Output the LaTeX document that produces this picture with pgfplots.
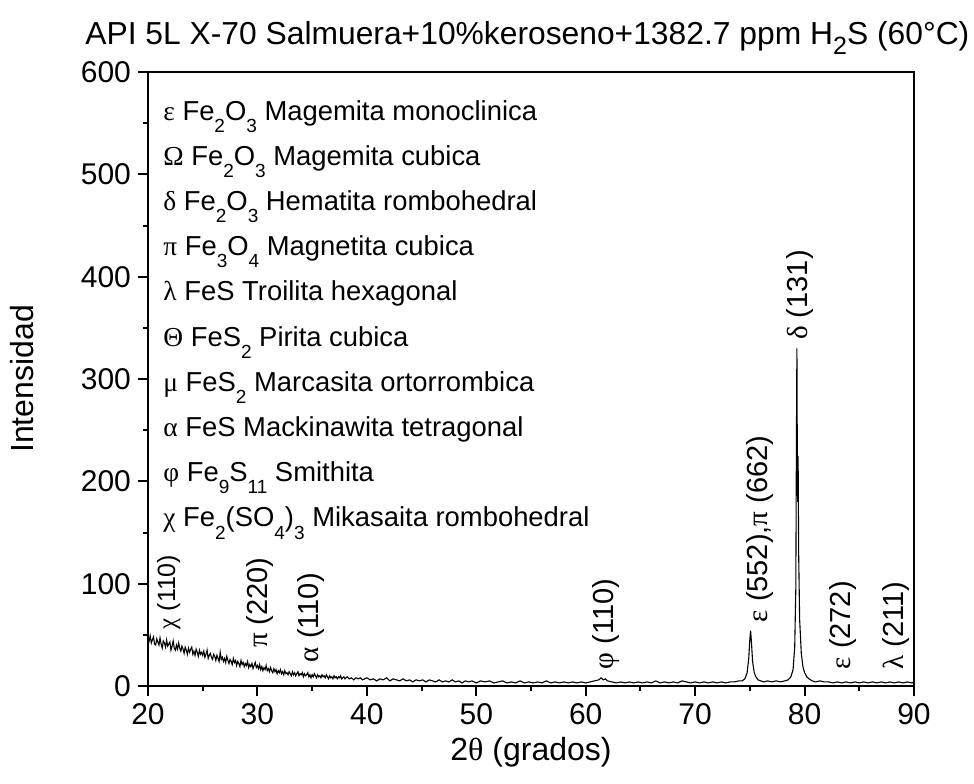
\documentclass[border=0pt]{standalone}
\usepackage{fontspec}
\setmainfont{Liberation Sans}
\newfontfamily\grk{Liberation Serif}
\usepackage{pgfplots}
\usepackage{pgfplotstable}
\pgfplotsset{compat=1.18}
\newcommand{\sub}[1]{\raisebox{-0.45em}{\fontsize{9.5}{9.5}\selectfont #1}}
\pgfplotstableread{
x y
20.0 47
20.1 44
20.2 49
20.3 42
20.4 45
20.5 48
20.6 41
20.7 40
20.8 46
20.9 43
21.0 40
21.1 47
21.2 41
21.3 37
21.4 44
21.5 42
21.6 38
21.7 45
21.8 39
21.9 41
22.0 43
22.1 35
22.2 39
22.3 44
22.4 37
22.5 35
22.6 40
22.7 36
22.8 42
22.9 37
23.0 34
23.1 39
23.2 36
23.3 32
23.4 38
23.5 35
23.6 31
23.7 37
23.8 33
23.9 36
24.0 38
24.1 31
24.2 34
24.3 30
24.4 36
24.5 33
24.6 29
24.7 35
24.8 31
24.9 33
25.0 30
25.1 34
25.2 28
25.3 31
25.4 35
25.5 27
25.6 30
25.7 32
25.8 28
25.9 26
26.0 31
26.1 29
26.2 25
26.3 30
26.4 27
26.5 24
26.6 33
26.7 26
26.8 28
26.9 24
27.0 27
27.1 23
27.2 29
27.3 25
27.4 22
27.5 26
27.6 24
27.7 21
27.8 27
27.9 23
28.0 25
28.1 20
28.2 24
28.3 22
28.4 19
28.5 25
28.6 21
28.7 23
28.8 19
28.9 22
29.0 20
29.1 24
29.2 18
29.3 21
29.4 19
29.5 22
29.6 17
29.7 20
29.8 23
29.9 18
30.0 20
30.1 17
30.2 21
30.3 16
30.4 19
30.5 15
30.6 18
30.7 16
30.8 20
30.9 15
31.0 17
31.1 14
31.2 18
31.3 15
31.4 13
31.5 17
31.6 14
31.7 16
31.8 12
31.9 15
32.0 13
32.1 16
32.2 12
32.3 14
32.4 11
32.5 15
32.6 12
32.7 13
32.8 11
32.9 14
33.0 12
33.1 10
33.2 14
33.3 11
33.4 13
33.5 10
33.6 12
33.7 14
33.8 10
33.9 12
34.0 11
34.1 13
34.2 9
34.3 12
34.4 10
34.5 11
34.6 13
34.7 9
34.8 11
34.9 8
35.0 11
35.1 9
35.2 12
35.3 10
35.4 8
35.5 11
35.6 9
35.7 10
35.8 8
35.9 11
36.0 9
36.1 10
36.2 8
36.3 11
36.4 9
36.5 7
36.6 10
36.7 8
36.8 9
36.9 7
37.0 10
37.1 8
37.2 9
37.3 7
37.4 9
37.5 8
37.6 10
37.7 7
37.8 8
37.9 9
38.0 7
38.2 9
38.4 7
38.6 8
38.8 6
39.0 8
39.2 7
39.4 8
39.6 6
39.8 7
40.0 8
40.3 6
40.6 7
40.9 5
41.2 7
41.5 6
41.8 8
42.1 5
42.4 7
42.7 6
43.0 5
43.3 7
43.6 5
43.9 6
44.2 4
44.5 6
44.8 5
45.1 6
45.4 4
45.7 6
46.0 5
46.3 4
46.6 6
46.9 4
47.2 5
47.5 4
47.8 6
48.1 4
48.4 5
48.7 3
49.0 5
49.3 4
49.6 5
50.0 3
50.4 5
50.8 4
51.2 5
51.6 3
52.0 4
52.4 5
52.8 3
53.2 4
53.6 3
54.0 5
54.4 3
54.8 4
55.2 3
55.6 4
56.0 3
56.4 5
56.8 3
57.2 4
57.6 3
58.0 4
58.4 3
58.8 4
59.2 3
59.6 4
60.0 3
60.4 4
60.8 5
61.2 6
61.4 8
61.6 6
61.8 7
62.0 5
62.4 4
62.8 3
63.2 4
63.6 3
64.0 4
64.4 3
64.8 4
65.2 3
65.6 4
66.0 3
66.4 5
66.8 3
67.2 4
67.6 3
68.0 4
68.4 3
68.8 5
69.2 4
69.6 3
70.0 4
70.4 3
70.8 4
71.2 3
71.6 4
72.0 3
72.4 4
72.8 3
73.2 4
73.6 4
74.0 5
74.3 5
74.55 7
74.75 13
74.9 27
75.0 46
75.07 54
75.15 42
75.25 24
75.4 13
75.55 9
75.75 6
76.0 5
76.3 4
76.6 5
77.0 4
77.4 5
77.8 4
78.2 5
78.5 6
78.75 9
78.95 16
79.1 38
79.2 95
79.26 250
79.3 330
79.35 190
79.38 180
79.41 225
79.46 130
79.55 65
79.7 32
79.85 19
80.0 13
80.2 9
80.4 7
80.7 5
81.0 4
81.4 5
81.8 4
82.2 4
82.6 3
83.0 4
83.4 3
83.8 4
84.2 3
84.6 4
85.0 3
85.4 4
85.8 3
86.2 4
86.6 3
87.0 4
87.4 3
87.8 4
88.2 3
88.6 4
89.0 3
89.4 4
89.8 3
90.0 4
}\xrd
\begin{document}
\begin{tikzpicture}
\begin{axis}[
  at={(0,0)}, anchor=south west, scale only axis,
  width=383pt, height=307pt,
  xmin=20, xmax=90, ymin=0, ymax=600,
  xtick={20,30,...,90}, minor xtick={25,35,...,85},
  ytick={0,100,...,600}, minor ytick={50,150,...,550},
  tick align=outside, xtick pos=left, ytick pos=left,
  major tick length=5pt, minor tick length=2.5pt,
  every tick/.style={black, line width=1pt},
  axis line style={line width=1pt},
  tick label style={font=\fontsize{15}{17}\selectfont},
  /pgf/number format/assume math mode=true,
  clip=false,
]
\addplot[black, line width=0.55pt, mark=none] table {\xrd};
\node[rotate=90, anchor=west, inner sep=0pt, font=\fontsize{12.5}{14}\selectfont] at (axis cs:21.9,55) {{\grk χ} (110)};
\node[rotate=90, anchor=west, inner sep=0pt, font=\fontsize{14.5}{16}\selectfont] at (axis cs:30.2,37) {{\grk π} (220)};
\node[rotate=90, anchor=west, inner sep=0pt, font=\fontsize{14.5}{16}\selectfont] at (axis cs:34.9,23) {{\grk α} (110)};
\node[rotate=90, anchor=west, inner sep=0pt, font=\fontsize{14.5}{16}\selectfont] at (axis cs:61.9,16) {{\grk φ} (110)};
\node[rotate=90, anchor=west, inner sep=0pt, font=\fontsize{14.5}{16}\selectfont] at (axis cs:75.9,62) {{\grk ε} (552),{\grk π} (662)};
\node[rotate=90, anchor=west, inner sep=0pt, font=\fontsize{14.5}{16}\selectfont] at (axis cs:79.6,338) {{\grk δ} (131)};
\node[rotate=90, anchor=west, inner sep=0pt, font=\fontsize{14.5}{16}\selectfont] at (axis cs:83.5,16) {{\grk ε} (272)};
\node[rotate=90, anchor=west, inner sep=0pt, font=\fontsize{14.5}{16}\selectfont] at (axis cs:88.4,16) {{\grk λ} (211)};
\end{axis}
\begin{scope}[every node/.style={anchor=base west, inner sep=0pt, font=\fontsize{13.7}{16}\selectfont}]
\node at (7.5pt,283pt) {{\grk ε} Fe\sub{2}O\sub{3} Magemita monoclinica};
\node at (7.5pt,260.4pt) {{\grk Ω} Fe\sub{2}O\sub{3} Magemita cubica};
\node at (7.5pt,237.8pt) {{\grk δ} Fe\sub{2}O\sub{3} Hematita rombohedral};
\node at (7.5pt,215.2pt) {{\grk π} Fe\sub{3}O\sub{4} Magnetita cubica};
\node at (7.5pt,192.6pt) {{\grk λ} FeS Troilita hexagonal};
\node at (7.5pt,170pt) {{\grk Θ} FeS\sub{2} Pirita cubica};
\node at (7.5pt,147.4pt) {{\grk μ} FeS\sub{2} Marcasita ortorrombica};
\node at (7.5pt,124.8pt) {{\grk α} FeS Mackinawita tetragonal};
\node at (7.5pt,102.2pt) {{\grk φ} Fe\sub{9}S\sub{11} Smithita};
\node at (7.5pt,79.6pt) {{\grk χ} Fe\sub{2}(SO\sub{4})\sub{3} Mikasaita rombohedral};
\end{scope}
\node[anchor=base west, inner sep=0pt, font=\fontsize{15.9}{18}\selectfont] at (-31.5pt,320.5pt) {API 5L X-70 Salmuera+10\%keroseno+1382.7 ppm H\raisebox{-0.3em}{\fontsize{12.5}{12.5}\selectfont 2}S (60°C)};
\node[rotate=90, inner sep=0pt, font=\fontsize{16}{18}\selectfont] at (-63pt,153.5pt) {Intensidad};
\node[inner sep=0pt, font=\fontsize{16}{18}\selectfont] at (191.5pt,-33pt) {2{\grk θ} (grados)};
\pgfresetboundingbox
\path (-74pt,-48.5pt) rectangle (413pt,343pt);
\end{tikzpicture}
\end{document}
